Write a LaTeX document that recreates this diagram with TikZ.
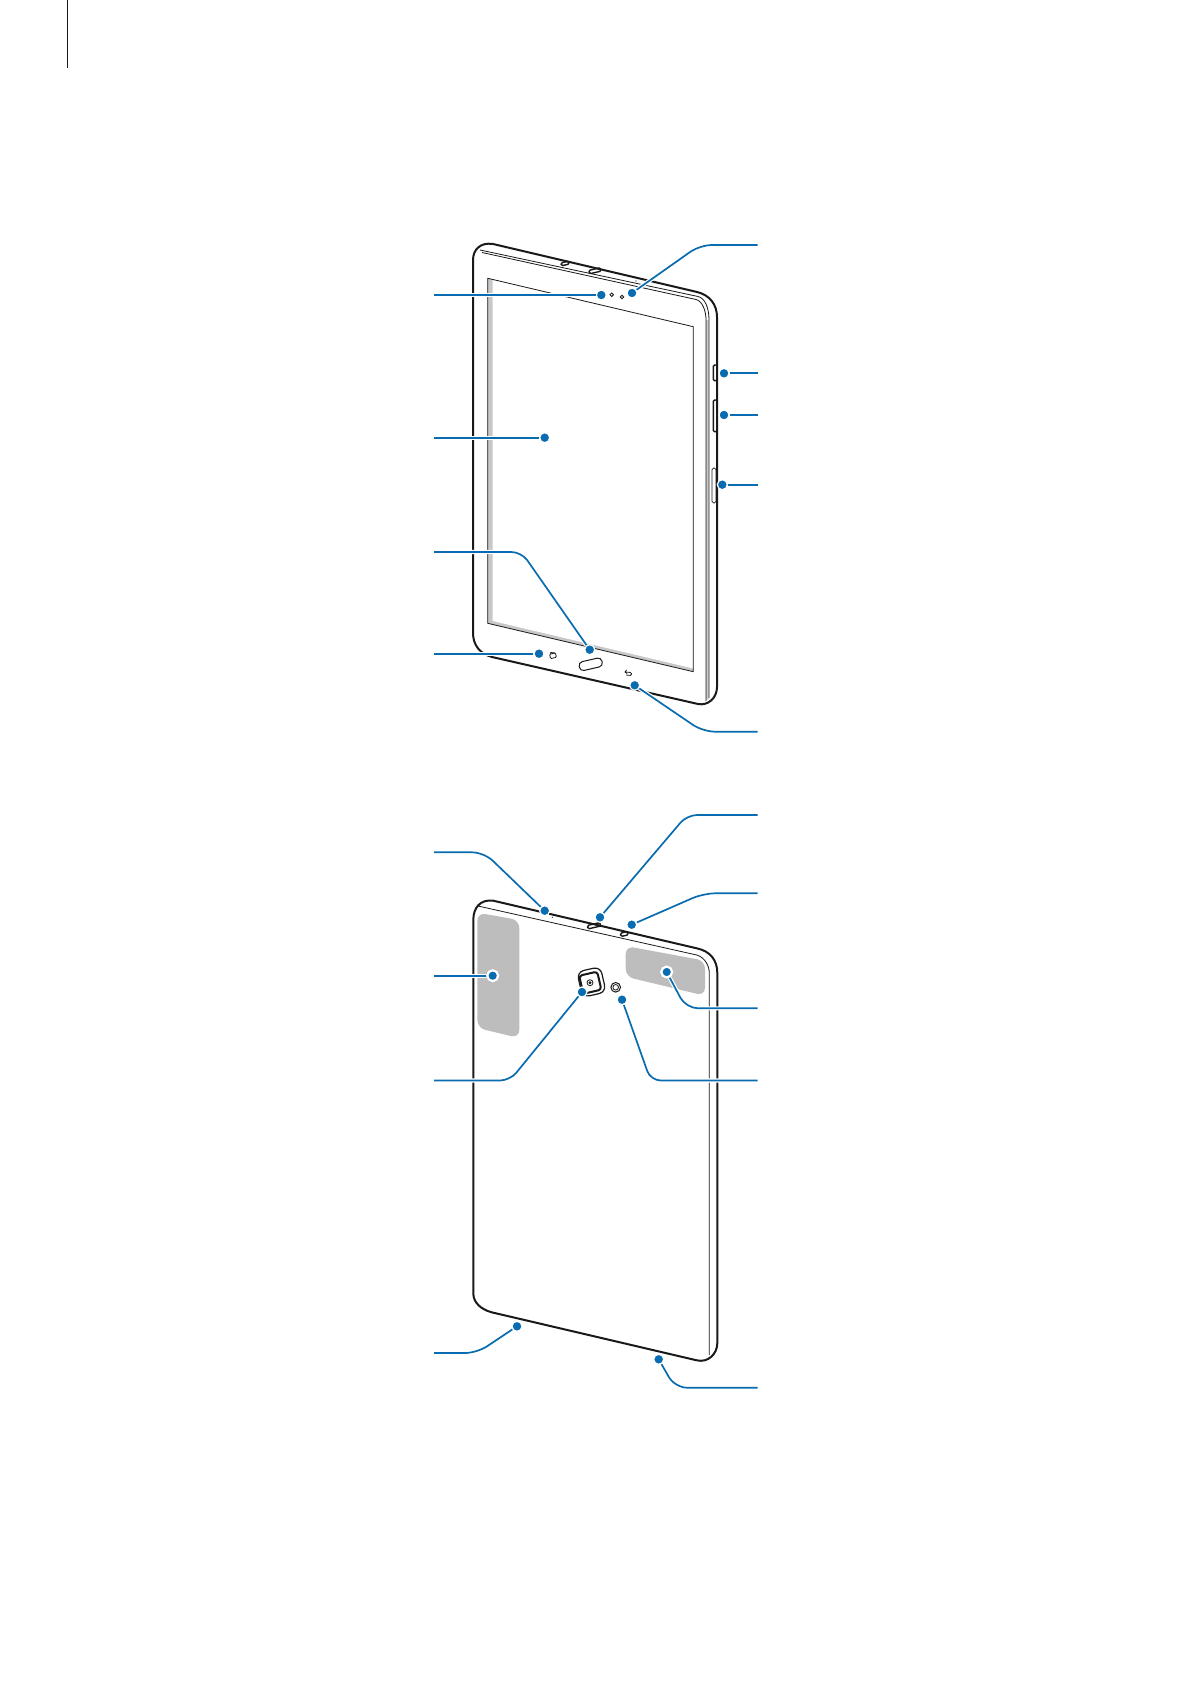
\documentclass[tikz,border=0pt]{standalone}
\definecolor{leadblue}{HTML}{0A6CB0}
\definecolor{panelgray}{HTML}{BDBDBD}
\definecolor{stripgray}{HTML}{C8C8C8}
\tikzset{
	body/.style={draw=black!90,line width=1pt},
	fine/.style={draw=black!90,line width=.4pt},
	dot/.style={circle,fill=leadblue,draw=white,line width=.6pt,inner sep=0pt,minimum size=5pt},
	bigdot/.style={dot,line width=1.1pt,minimum size=5.4pt},
	lead/.style={draw=white,double=leadblue,double distance=.85pt,line width=.6pt,rounded corners=5pt},
	softlead/.style={lead,rounded corners=6pt},
}
\begin{document}
\begin{tikzpicture}[x=.5pt,y=-.5pt]
	\useasboundingbox (0,0) rectangle (1191,1684);
	\draw[fine] (67.7,0)--(67.7,68);

	\fill[stripgray] (487.7,278.3)--(693.3,326.7)--(693.3,671.7)--(487.7,623.3)--cycle;
	\fill[white] (492.7,279.5)--(693.3,326.7)--(693.3,668.5)--(492.7,621)--cycle;
	\draw[fine] (487.7,278.3)--(693.3,326.7)--(693.3,671.7)--(487.7,623.3)--cycle;
	\fill[stripgray] (706,320)--(708.5,320)--(708.5,699)--(706,700)--cycle;
	\draw[body] (473,260) .. controls (473,250) and (480,242) .. (493,244)--(697,292)
		.. controls (710,295) and (717,305) .. (717,317)--(717,687)
		.. controls (717,698) and (708,706) .. (698,704)--(492,657)
		.. controls (480,654) and (473,645) .. (473,633)--cycle;
	\draw[fine] (480,250)--(698,296.5) .. controls (705,298) and (709,308) .. (709,320)--(709,698);
	\draw[fine] (482,252.5)--(696,299.5) .. controls (702,301) and (706,310) .. (706,320)--(706,701);
	\draw[fine] (611.7,294.7) circle (1.8);
	\draw[fine] (622,297) circle (1.8);
	\draw[body,line width=.7pt,rounded corners=.6pt] (713.3,365)--(717,365)--(717,380.7)--(713.3,380.7)--cycle;
	\draw[body,line width=.7pt,rounded corners=.6pt] (713.3,400)--(717,400)--(717,431.7)--(713.3,431.7)--cycle;
	\draw[fine,rounded corners=.8pt] (712,468)--(716,468)--(716,503)--(712,503)--cycle;
	\draw[body,line width=.7pt,rotate around={13:(565,263.3)},rounded corners=.7pt] (561,262)rectangle(569,265);
	\draw[body,line width=.7pt,rotate around={13:(595,270.7)},rounded corners=.7pt] (589,269)rectangle(601,272.5);
	\fill (636,281) circle (.6);
	\draw[fine,line width=.5pt,rotate around={13:(590.7,664.3)},rounded corners=2pt] (579,659.8)rectangle(602.4,668.8);
	\draw[fine,rotate around={13:(553,655.7)},rounded corners=.5pt] (550,653.5)rectangle(556,658);
	\draw[fine] (550,653.5)--(551,652.5)--(555,653);
	\draw[fine,rounded corners=.6pt] (625,672)--(631.5,672.5)--(631.5,675.5)--(626,675);
	\draw[fine] (626.5,670)--(625,672)--(627,673.5);

	\fill[panelgray,rounded corners=4pt] (477.3,912.7)--(519.3,920)--(519.3,1038)--(477.3,1028)--cycle;
	\fill[panelgray,rounded corners=4pt] (625.7,946)--(705,960.7)--(705,995.7)--(625.7,976.7)--cycle;
	\draw[body] (473.3,920) .. controls (473.3,908) and (480,899) .. (493.3,900.7)--(696.7,948.3)
		.. controls (710,951) and (717.3,960) .. (717.3,973)--(717.3,1343)
		.. controls (717.3,1354) and (708,1363) .. (696.7,1360.3)--(491.7,1312.3)
		.. controls (480,1309) and (473.3,1302) .. (473.3,1293.3)--cycle;
	\draw[fine] (478,906)--(696.7,955) .. controls (704,957) and (709.3,965) .. (709.3,973)--(709.3,1355);
	\draw[body,line width=.7pt,rotate around={13:(594,925.7)},rounded corners=.7pt] (587.5,924)rectangle(600.5,927.5);
	\draw[body,line width=.7pt,rotate around={13:(624.3,934)},rounded corners=.7pt] (620.5,932.3)rectangle(628,935.7);
	\fill (552.3,917.3) circle (.6);
	\draw[fine,line width=.6pt,rotate around={13:(591.5,982)},rounded corners=3.5pt] (579.5,969)rectangle(603.5,995);
	\draw[body,rotate around={13:(590,982.7)},rounded corners=1.5pt] (581,973.5)rectangle(599.5,992);
	\draw[fine] (590,982.7) circle (3);
	\draw[fine] (590,982.7) circle (1);
	\draw[fine,line width=.5pt] (615.7,987.3) circle (4.8);
	\draw[fine] (615.7,987.3) circle (2.8);

	\node[dot] (sensorfront) at (601.3,295) {};
	\node[dot] (screen) at (544.7,437.7) {};
	\node[dot] (homekey) at (589.7,649.7) {};
	\node[dot] (recentkey) at (539,653.7) {};
	\node[dot] (camerafront) at (632,293) {};
	\node[dot] (powerkey) at (724,373.3) {};
	\node[dot] (volumekey) at (724,415) {};
	\node[dot] (cardtray) at (722.3,484.7) {};
	\node[dot] (backkey) at (634.7,685.3) {};
	\node[dot] (micback) at (544.7,910.7) {};
	\node[dot] (speakerback) at (600,917.3) {};
	\node[dot] (jackback) at (631.7,924.7) {};
	\node[bigdot] (antennaleft) at (492.7,975.7) {};
	\node[dot] (cameraback) at (582,992) {};
	\node[dot] (flash) at (622,999.7) {};
	\node[bigdot] (antennaright) at (666.7,972) {};
	\node[dot] (portleft) at (517,1326.3) {};
	\node[dot] (portright) at (658.7,1359.3) {};

	\coordinate (sensorfrontend) at (434,295);
	\coordinate (screenend) at (434,437.7);
	\coordinate (homekeybend) at (521.5,552);
	\coordinate (homekeyend) at (434,552);
	\coordinate (recentkeyend) at (434,653.7);
	\coordinate (camerafrontbend) at (700,245);
	\coordinate (camerafrontend) at (757.7,245);
	\coordinate (powerkeyend) at (757.7,373.3);
	\coordinate (volumekeyend) at (757.7,415);
	\coordinate (cardtrayend) at (757.7,484.7);
	\coordinate (backkeybend) at (703,731.7);
	\coordinate (backkeyend) at (757.7,731.7);
	\coordinate (micbackbend) at (484,852.3);
	\coordinate (micbackend) at (434,852.3);
	\coordinate (speakerbackbend) at (687,815);
	\coordinate (speakerbackend) at (757.7,815);
	\coordinate (jackbackbend) at (703.6,893.3);
	\coordinate (jackbackend) at (757.7,893.3);
	\coordinate (antennaleftend) at (434,975.7);
	\coordinate (camerabackbend) at (510,1080.5);
	\coordinate (camerabackend) at (434,1080.5);
	\coordinate (flashbend) at (650.6,1080.5);
	\coordinate (flashend) at (757.7,1080.5);
	\coordinate (antennarightbend) at (686,1008.3);
	\coordinate (antennarightend) at (757.7,1008.3);
	\coordinate (portleftbend) at (477,1353);
	\coordinate (portleftend) at (434,1353);
	\coordinate (portrightbend) at (675,1387.7);
	\coordinate (portrightend) at (757.7,1387.7);

	\draw[lead] (sensorfront)--(sensorfrontend);
	\draw[lead] (screen)--(screenend);
	\draw[lead] (homekey)--(homekeybend)--(homekeyend);
	\draw[lead] (recentkey)--(recentkeyend);
	\draw[softlead] (camerafront)--(camerafrontbend)--(camerafrontend);
	\draw[lead] (powerkey)--(powerkeyend);
	\draw[lead] (volumekey)--(volumekeyend);
	\draw[lead] (cardtray)--(cardtrayend);
	\draw[softlead] (backkey)--(backkeybend)--(backkeyend);
	\draw[softlead] (micback)--(micbackbend)--(micbackend);
	\draw[lead] (speakerback)--(speakerbackbend)--(speakerbackend);
	\draw[softlead] (jackback)--(jackbackbend)--(jackbackend);
	\draw[lead] (antennaleft)--(antennaleftend);
	\draw[lead] (cameraback)--(camerabackbend)--(camerabackend);
	\draw[lead] (flash)--(flashbend)--(flashend);
	\draw[softlead] (antennaright)--(antennarightbend)--(antennarightend);
	\draw[softlead] (portleft)--(portleftbend)--(portleftend);
	\draw[softlead] (portright)--(portrightbend)--(portrightend);
\end{tikzpicture}
\end{document}
